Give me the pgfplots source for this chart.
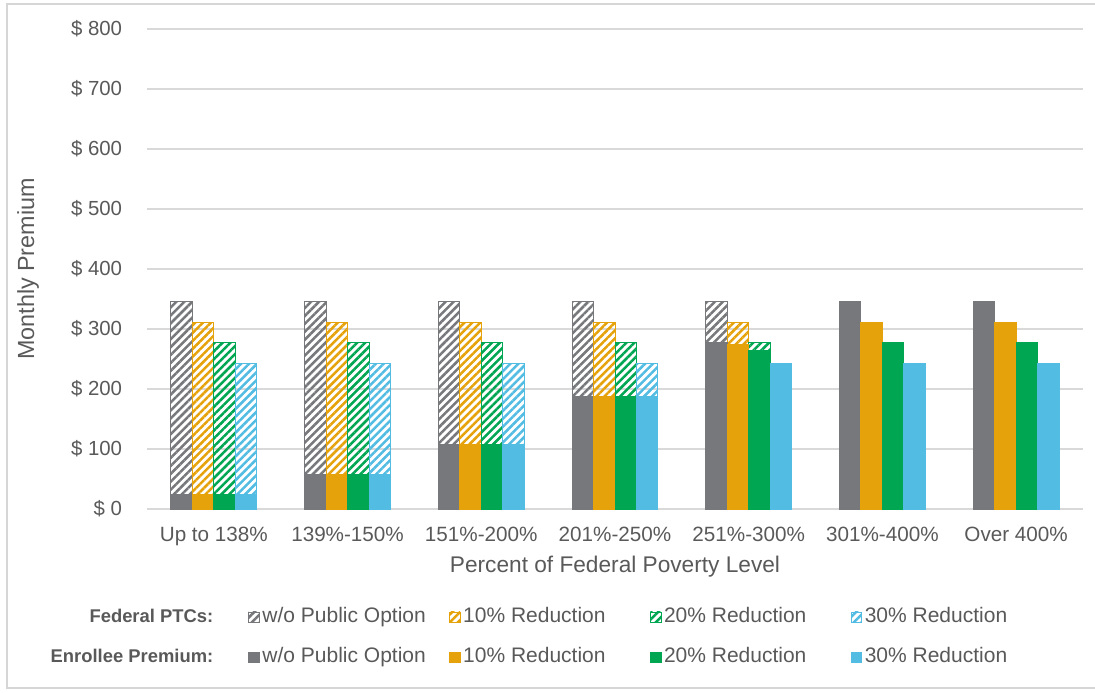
\documentclass[border=0pt]{standalone}
\usepackage{pgfplots}
\pgfplotsset{compat=1.18}
\usepackage{pgfplotstable}
\usetikzlibrary{patterns.meta}
\usepackage{fontspec}
\setmainfont{Liberation Sans}

\definecolor{cGray}{RGB}{118,120,123}
\definecolor{cOrange}{RGB}{230,162,10}
\definecolor{cGreen}{RGB}{0,166,82}
\definecolor{cBlue}{RGB}{82,188,226}
\definecolor{txtGray}{RGB}{89,89,89}
\definecolor{gridGray}{RGB}{217,217,217}
\definecolor{frameGray}{RGB}{214,214,214}

% x = income band, total = full monthly premium,
% enroll = part paid by the enrollee (the rest is covered by federal PTCs)
\pgfplotstableread{
x total enroll
0 345 25
1 345 58
2 345 107
3 345 187
4 345 277
5 345 345
6 345 345
}\tGray
\pgfplotstableread{
x total enroll
0 310 25
1 310 58
2 310 107
3 310 187
4 310 275
5 310 310
6 310 310
}\tOrange
\pgfplotstableread{
x total enroll
0 277 25
1 277 58
2 277 107
3 277 187
4 277 265
5 277 277
6 277 277
}\tGreen
\pgfplotstableread{
x total enroll
0 242 25
1 242 58
2 242 107
3 242 187
4 242 242
5 242 242
6 242 242
}\tBlue

\tikzset{
  ptc/.style={pattern={Lines[angle=45,distance=4.2pt,line width=1.9pt]},
              pattern color=#1, draw=#1, line width=0.75pt},
  own/.style={fill=#1, draw=#1, line width=0.75pt},
}
\pgfplotsset{
  ptcswatch/.style={legend image code/.code={\draw[ptc=#1, line width=0.6pt] (0pt,-4pt) rectangle (8pt,4pt);}},
  ownswatch/.style={legend image code/.code={\fill[#1] (0pt,-4pt) rectangle (8pt,4pt);}},
}
\newcommand\entry[1]{\makebox[142pt][l]{\hspace{2pt}#1}}
\newcommand\head[1]{\makebox[156pt][r]{\fontsize{13.8}{16}\selectfont\bfseries #1\hspace{26.25pt}}}

\begin{document}
% one unit = 1 output pixel; the origin is the lower left corner of the plot area
\begin{tikzpicture}[x=0.75pt,y=0.75pt]
\useasboundingbox (-147,-183) rectangle (948,509);
\draw[frameGray, line width=0.8pt] (948,505) -- (-140,505) -- (-140,-179) -- (948,-179);
\begin{axis}[
  scale only axis, width=702pt, height=360pt,
  xmin=-0.5, xmax=6.5, ymin=0, ymax=800,
  xtick={0,...,6},
  xticklabels={Up to 138\%, 139\%-150\%, 151\%-200\%, 201\%-250\%, 251\%-300\%, 301\%-400\%, Over 400\%},
  ytick={0,100,...,800},
  yticklabels={\$ 0,\$ 100,\$ 200,\$ 300,\$ 400,\$ 500,\$ 600,\$ 700,\$ 800},
  axis line style={draw=none},
  major tick length=0pt,
  ymajorgrids, grid style={gridGray, line width=0.9pt},
  xticklabel style={anchor=base, yshift=-24.5pt, text=txtGray, font=\fontsize{15.5}{18}\selectfont},
  yticklabel style={anchor=east, inner sep=0pt, xshift=-18.5pt, text=txtGray, font=\fontsize{15.3}{18}\selectfont},
  xlabel={Percent of Federal Poverty Level},
  ylabel={Monthly Premium},
  xlabel style={at={(axis description cs:0.5,-0.1333)}, anchor=base, text=txtGray, font=\fontsize{17}{20}\selectfont},
  ylabel style={at={(axis description cs:-0.1271,0.5)}, anchor=center, text=txtGray, font=\fontsize{17.5}{20}\selectfont},
  legend columns=5,
  legend cell align=left,
  legend style={
    at={(axis description cs:-0.1143,-0.2042)}, anchor=north west,
    draw=none, fill=none, inner sep=0pt, row sep=15pt, column sep=0pt,
    font=\fontsize{15.75}{18}\selectfont, text=txtGray,
    nodes={inner sep=0pt, text height=11.5pt, text depth=3.5pt, anchor=west},
  },
]
% federal PTC share: hatched bar up to the full premium
\addplot[ybar, bar width=16.1pt, bar shift=-24.15pt, ptc=cGray, forget plot] table[x=x,y=total]{\tGray};
\addplot[ybar, bar width=16.1pt, bar shift=-8.05pt, ptc=cOrange, forget plot] table[x=x,y=total]{\tOrange};
\addplot[ybar, bar width=16.1pt, bar shift=8.05pt, ptc=cGreen, forget plot] table[x=x,y=total]{\tGreen};
\addplot[ybar, bar width=16.1pt, bar shift=24.15pt, ptc=cBlue, forget plot] table[x=x,y=total]{\tBlue};
% enrollee share: solid bar drawn over the lower part
\addplot[ybar, bar width=16.1pt, bar shift=-24.15pt, own=cGray, forget plot] table[x=x,y=enroll]{\tGray};
\addplot[ybar, bar width=16.1pt, bar shift=-8.05pt, own=cOrange, forget plot] table[x=x,y=enroll]{\tOrange};
\addplot[ybar, bar width=16.1pt, bar shift=8.05pt, own=cGreen, forget plot] table[x=x,y=enroll]{\tGreen};
\addplot[ybar, bar width=16.1pt, bar shift=24.15pt, own=cBlue, forget plot] table[x=x,y=enroll]{\tBlue};

\addlegendimage{empty legend}\addlegendentry{\head{Federal PTCs:}}
\addlegendimage{ptcswatch=cGray}\addlegendentry{\entry{w/o Public Option}}
\addlegendimage{ptcswatch=cOrange}\addlegendentry{\entry{10\% Reduction}}
\addlegendimage{ptcswatch=cGreen}\addlegendentry{\entry{20\% Reduction}}
\addlegendimage{ptcswatch=cBlue}\addlegendentry{\entry{30\% Reduction}}
\addlegendimage{empty legend}\addlegendentry{\head{Enrollee Premium:}}
\addlegendimage{ownswatch=cGray}\addlegendentry{\entry{w/o Public Option}}
\addlegendimage{ownswatch=cOrange}\addlegendentry{\entry{10\% Reduction}}
\addlegendimage{ownswatch=cGreen}\addlegendentry{\entry{20\% Reduction}}
\addlegendimage{ownswatch=cBlue}\addlegendentry{\entry{30\% Reduction}}
\end{axis}
\end{tikzpicture}
\end{document}
